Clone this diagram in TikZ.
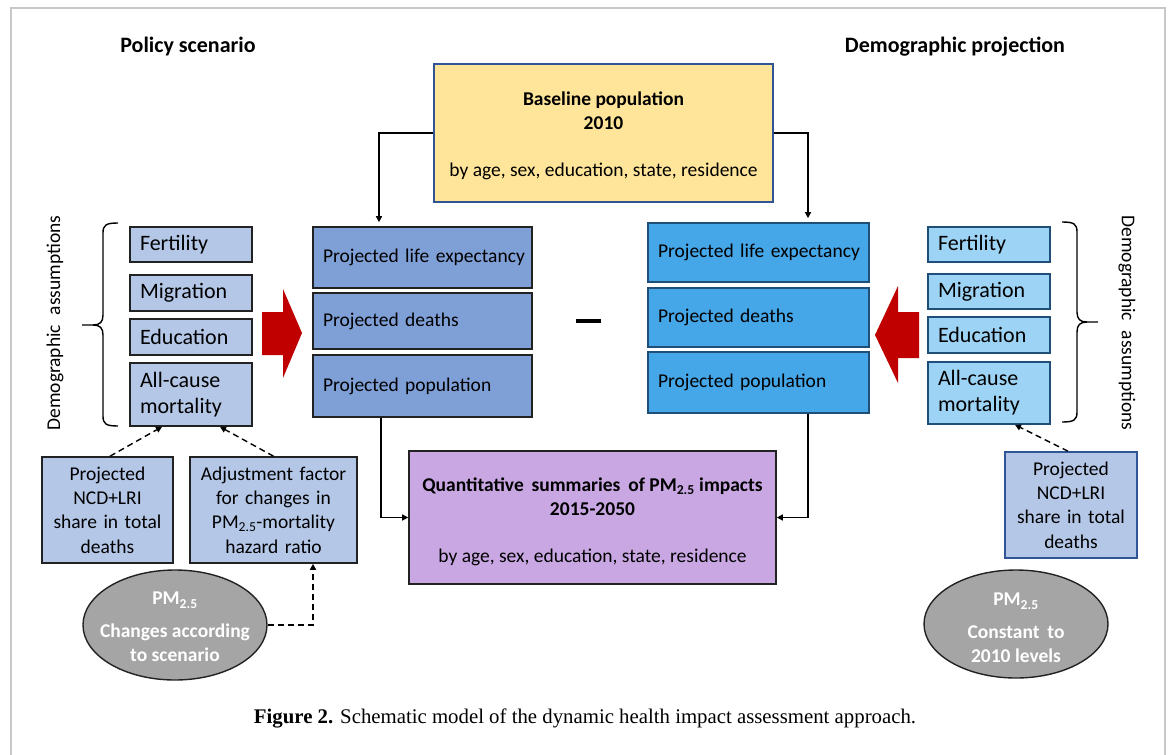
\documentclass[tikz,border=0pt]{standalone}
\usepackage{fontspec}
\setmainfont{Carlito}
\newfontfamily\capserif{Liberation Serif}
\usetikzlibrary{arrows.meta,shapes.geometric}

\definecolor{baseFill}{HTML}{FFE599}
\definecolor{baseLine}{HTML}{2F5597}
\definecolor{polFill}{HTML}{7F9FD7}
\definecolor{demFill}{HTML}{45A6E8}
\definecolor{demLine}{HTML}{1F4E79}
\definecolor{paleBlue}{HTML}{B4C7E7}
\definecolor{skyBlue}{HTML}{9DD3F5}
\definecolor{lilac}{HTML}{C9A7E3}
\definecolor{pmGray}{HTML}{A5A5A5}
\definecolor{bigRed}{HTML}{C00000}
\definecolor{darkLine}{HTML}{222222}
\definecolor{frameGray}{HTML}{C8C8C8}

\newcommand\txtA{\fontsize{19.5}{24.3}\selectfont}
\newcommand\txtB{\fontsize{22}{26}\selectfont}

\begin{document}
\begin{tikzpicture}[x=1pt,y=-1pt,
  blk/.style={draw, rectangle, line width=1.6pt, inner sep=0pt},
  projbox/.style={blk, font=\txtA, align=left, inner xsep=4pt, text width=#1,
    execute at begin node=\hspace*{6pt}},
  demobox/.style={blk, font=\txtB, align=left, inner xsep=10pt, text width=102pt},
  notebox/.style={blk, font=\txtA, align=center, fill=paleBlue},
  conn/.style={line width=1.4pt, -{Triangle[length=6pt,width=6pt]}},
  dconn/.style={conn, dash pattern=on 6pt off 4pt},
  brace/.style={line width=1.4pt},
  pm/.style={ellipse, draw=darkLine, line width=1.4pt, fill=pmGray, inner sep=0pt},
  pmtext/.style={font=\txtA\bfseries, text=white, align=center},
  inner/.style={font=\txtA, align=center},
  head/.style={font=\fontsize{22}{26}\selectfont\bfseries}
]
\useasboundingbox (0,0) rectangle (1170,755);

% page frame, open at the bottom
\draw[frameGray, line width=1.6pt] (11,755) -- (11,8) -- (1165,8) -- (1165,755);

% column headings
\node[head] (hpol) at (188,47) {Policy scenario};
\node[head] (hdem) at (955,47) {Demographic projection};

% baseline population
\node[blk, draw=baseLine, fill=baseFill, minimum width=339pt, minimum height=138pt] (base) at (603.5,133) {};
\node[inner] (baseT) at (603.5,136)
  {\textbf{Baseline population}\\\textbf{2010}\\[23pt]by age, sex, education, state, residence};

% policy scenario projection
\node[projbox=211pt, draw=darkLine, fill=polFill, minimum width=219pt, minimum height=61pt] (lE) at (422.5,257.5) {Projected life expectancy};
\node[projbox=211pt, draw=darkLine, fill=polFill, minimum width=219pt, minimum height=56pt] (lD) at (422.5,321) {Projected deaths};
\node[projbox=211pt, draw=darkLine, fill=polFill, minimum width=219pt, minimum height=62pt] (lP) at (422.5,386) {Projected population};

% demographic projection
\node[projbox=213pt, draw=demLine, fill=demFill, minimum width=221pt, minimum height=59pt] (rE) at (758.5,252.5) {Projected life expectancy};
\node[projbox=213pt, draw=demLine, fill=demFill, minimum width=221pt, minimum height=59pt] (rD) at (758.5,317.5) {Projected deaths};
\node[projbox=213pt, draw=demLine, fill=demFill, minimum width=221pt, minimum height=61pt] (rP) at (758.5,382.5) {Projected population};

% difference sign
\draw[line width=4pt] (576,321) -- (601,321);

% demographic assumptions, left
\node[demobox, draw=darkLine, fill=paleBlue, minimum width=122pt, minimum height=35pt] (fL) at (191,244.5) {Fertility};
\node[demobox, draw=darkLine, fill=paleBlue, minimum width=122pt, minimum height=36pt] (mL) at (191,293) {Migration};
\node[demobox, draw=darkLine, fill=paleBlue, minimum width=122pt, minimum height=36pt] (eL) at (191,337) {Education};
\node[demobox, draw=darkLine, fill=paleBlue, minimum width=122pt, minimum height=63pt] (aL) at (191,394.5) {All-cause\\mortality};

% demographic assumptions, right
\node[demobox, draw=demLine, fill=skyBlue, minimum width=122pt, minimum height=35pt] (fR) at (989,244.5) {Fertility};
\node[demobox, draw=demLine, fill=skyBlue, minimum width=122pt, minimum height=35pt] (mR) at (989,291.5) {Migration};
\node[demobox, draw=demLine, fill=skyBlue, minimum width=122pt, minimum height=36pt] (eR) at (989,335) {Education};
\node[demobox, draw=demLine, fill=skyBlue, minimum width=122pt, minimum height=62pt] (aR) at (989,393) {All-cause\\mortality};

% braces
\draw[brace] (118,223) .. controls (106,223) and (103,225) .. (103,233) -- (103,315)
  .. controls (103,322) and (100,325) .. (93,325) -- (82,325);
\draw[brace] (93,325) .. controls (100,325) and (103,328) .. (103,335) -- (103,416)
  .. controls (103,424) and (106,426) .. (118,426);
\draw[brace] (1062,222) .. controls (1074,222) and (1077,224) .. (1077,232) -- (1077,312)
  .. controls (1077,319) and (1080,322) .. (1087,322) -- (1098,322);
\draw[brace] (1087,322) .. controls (1080,322) and (1077,325) .. (1077,332) -- (1077,412)
  .. controls (1077,420) and (1074,422) .. (1062,422);

\node[font=\txtA, rotate=90] (daL) at (55,323) {Demographic\hspace{0.5em}assumptions};
\node[font=\txtA, rotate=-90] (daR) at (1127,323) {Demographic\hspace{0.5em}assumptions};

% policy arrows
\fill[bigRed] (262,312) -- (283,312) -- (283,289) -- (302,333) -- (283,378) -- (283,355) -- (262,355) -- cycle;
\fill[bigRed] (919,312) -- (898,312) -- (898,286) -- (875,335) -- (898,383) -- (898,358) -- (919,358) -- cycle;

% summary box
\node[blk, draw=darkLine, fill=lilac, minimum width=367pt, minimum height=133pt] (out) at (592.5,517.5) {};
\node[inner] (outT) at (592.5,522)
  {\textbf{Quantitative\hspace{0.4em}summaries\hspace{0.4em}of PM\textsubscript{2.5} impacts}\\\textbf{2015-2050}\\[23pt]by age, sex, education, state, residence};

% cause-of-death and hazard inputs
\node[notebox, draw=darkLine, minimum width=131pt, minimum height=106pt, text width=125pt] (b1) at (107.5,510)
  {Projected\\NCD+LRI\\share in total\\deaths};
\node[notebox, draw=darkLine, minimum width=167pt, minimum height=106pt, text width=160pt] (b2) at (273.5,510)
  {Adjustment factor\\for changes in\\PM\textsubscript{2.5}-mortality\\hazard ratio};
\node[notebox, draw=baseLine, minimum width=132pt, minimum height=106pt, text width=125pt] (b3) at (1071,505)
  {Projected\\NCD+LRI\\share in total\\deaths};

% PM2.5 inputs
\node[pm, minimum width=184pt, minimum height=110pt] (pmL) at (175,625) {};
\node[pmtext] (pmLt) at (175,627) {PM\textsubscript{2.5}\\[8pt]Changes according\\to scenario};
\node[pm, minimum width=184pt, minimum height=108pt] (pmR) at (1016,624) {};
\node[pmtext] (pmRt) at (1016,628) {PM\textsubscript{2.5}\\[8pt]Constant\hspace{0.4em}to\\2010 levels};

% connectors
\draw[conn, shorten >=4pt] (base.west) -| ([xshift=-43.5pt]lE.north);
\draw[conn, shorten >=4pt] (base.east) -| ([xshift=49.5pt]rE.north);
\draw[conn] ([xshift=-41.5pt]lP.south) |- (out.west);
\draw[conn] ([xshift=49.5pt]rP.south) |- (out.east);

\draw[dconn] ([xshift=2.5pt]b1.north) -- ([xshift=-29pt]aL.south);
\draw[dconn] (b2.north) -- ([xshift=29pt]aL.south);
\draw[dconn] ([xshift=-3pt]b3.north) -- ([xshift=26pt]aR.south);
\draw[dconn] (pmL.east) -| ([xshift=39.5pt]b2.south);

% caption
\node[font=\capserif\fontsize{20.8}{24}\selectfont] (cap) at (585,718)
  {\textbf{Figure 2.} Schematic model of the dynamic health impact assessment approach.};
\end{tikzpicture}
\end{document}
